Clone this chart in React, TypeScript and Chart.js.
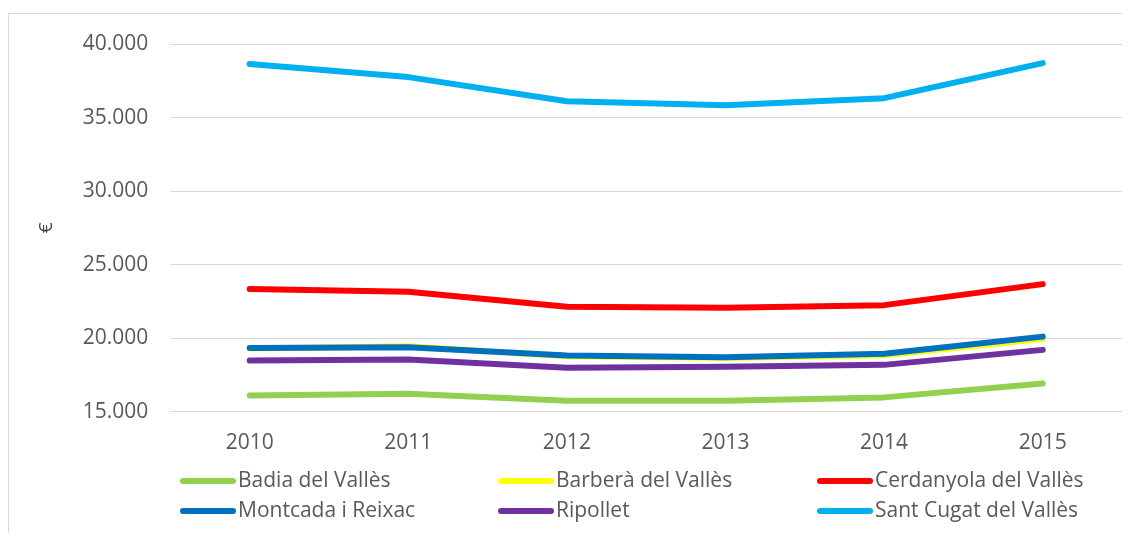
import React, { useEffect, useRef } from "react";
import { Chart, registerables } from "chart.js";

Chart.register(...registerables);

const years = ["2010", "2011", "2012", "2013", "2014", "2015"];
const seriesNames = [
  "Badia del Vallès",
  "Barberà del Vallès",
  "Cerdanyola del Vallès",
  "Montcada i Reixac",
  "Ripollet",
  "Sant Cugat del Vallès",
];
const badia = [16110, 16230, 15750, 15750, 15980, 16930];
const barbera = [19300, 19450, 18780, 18650, 18850, 19950];
const cerdanyola = [23340, 23160, 22140, 22070, 22250, 23680];
const montcada = [19345, 19390, 18820, 18700, 18940, 20110];
const ripollet = [18480, 18550, 18000, 18070, 18190, 19210];
const santCugat = [38640, 37750, 36110, 35840, 36320, 38700];
const seriesColors = ["#92d050", "#ffff00", "#ff0000", "#0070c0", "#7030a0", "#00b0f0"];
const yTickMin = 15000;
const yTickMax = 40000;
const yTickStep = 5000;

const fmt = (v: number) => String(v).replace(/\B(?=(\d{3})+(?!\d))/g, ".");

const legendPlugin = {
  id: "gridLegend",
  afterDraw(chart: any) {
    const ctx = chart.ctx;
    const colX = [171, 489, 808];
    const rowY = [467, 497];
    ctx.save();
    chart.data.datasets.forEach((ds: any, i: number) => {
      const x = colX[i % 3];
      const y = rowY[Math.floor(i / 3)];
      ctx.strokeStyle = ds.borderColor;
      ctx.lineWidth = 6;
      ctx.lineCap = "round";
      ctx.beginPath();
      ctx.moveTo(x + 3, y);
      ctx.lineTo(x + 53, y);
      ctx.stroke();
      ctx.fillStyle = "#595959";
      ctx.font = "21px 'Open Sans'";
      ctx.textBaseline = "middle";
      ctx.textAlign = "left";
      ctx.fillText(ds.label, x + 58, y);
    });
    ctx.restore();
  },
};

export default function App() {
  const ref = useRef<HTMLCanvasElement>(null);
  useEffect(() => {
    document.documentElement.style.overflow = "hidden";
    const all = [badia, barbera, cerdanyola, montcada, ripollet, santCugat];
    const chart = new Chart(ref.current!, {
      type: "line",
      data: {
        labels: years,
        datasets: all.map((d, i) => ({
          label: seriesNames[i],
          data: d,
          borderColor: seriesColors[i],
          backgroundColor: seriesColors[i],
          borderWidth: 6,
          pointRadius: 0,
          tension: 0,
          borderCapStyle: "round" as const,
          borderJoinStyle: "round" as const,
          order: 5 - i,
        })),
      },
      options: {
        responsive: false,
        animation: false,
        layout: { padding: { left: 25, top: 30, right: 0, bottom: 59 } },
        plugins: { legend: { display: false }, tooltip: { enabled: false } },
        scales: {
          x: {
            offset: true,
            grid: { display: false, drawTicks: false },
            border: { display: false },
            ticks: { color: "#595959", font: { family: "'Open Sans'", size: 21 }, padding: 19 },
          },
          y: {
            min: yTickMin,
            max: yTickMax,
            grid: {
              color: "#d9d9d9",
              lineWidth: 1,
              drawTicks: true,
              tickLength: 22,
              tickColor: "rgba(0,0,0,0)",
            },
            border: { display: false },
            ticks: {
              stepSize: yTickStep,
              color: "#595959",
              font: { family: "'Open Sans'", size: 21 },
              padding: 0,
              callback: (v: any) => fmt(Number(v)),
            },
            title: {
              display: true,
              text: "€",
              color: "#404040",
              font: { family: "'Open Sans'", size: 19 },
              padding: { top: 1, bottom: 25 },
            },
          },
        },
      },
      plugins: [legendPlugin],
    });
    return () => chart.destroy();
  }, []);
  return (
    <div
      style={{
        marginTop: 5,
        width: 1114,
        height: 520,
        boxSizing: "border-box",
        borderLeft: "1px solid #d9d9d9",
        borderTop: "1px solid #d9d9d9",
        background: "#fff",
      }}
    >
      <canvas ref={ref} width={1113} height={520} style={{ display: "block" }} />
    </div>
  );
}
